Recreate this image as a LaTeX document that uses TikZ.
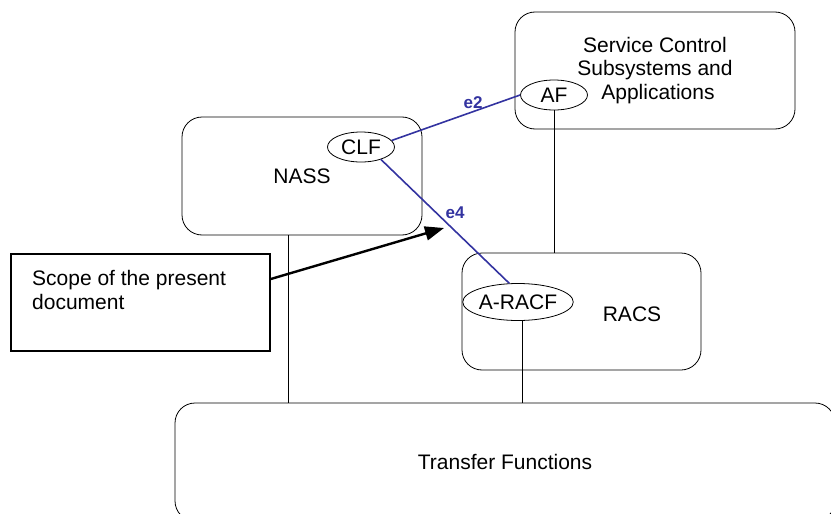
\documentclass[tikz,border=0pt]{standalone}
\usepackage{fontspec}
\setmainfont{Liberation Sans}
\usetikzlibrary{shapes.geometric,arrows.meta}
\definecolor{ifblue}{RGB}{51,51,160}
\begin{document}
\begin{tikzpicture}[x=1pt,y=-1pt,
  every node/.style={font=\fontsize{21}{23.5}\selectfont, inner sep=0pt},
  subsys/.style={draw, rounded corners=20pt, line width=0.8pt},
  func/.style={draw, ellipse, line width=0.8pt},
  ifline/.style={draw=ifblue, line width=1.6pt},
  iflabel/.style={text=ifblue, font=\fontsize{17}{20}\bfseries\selectfont},
  conn/.style={draw, line width=0.8pt},
  scopebox/.style={draw, line width=1.6pt},
  bigarrow/.style={draw, line width=2.4pt, -{Triangle[length=19pt,width=14pt]}}]
\useasboundingbox (0,0) rectangle (831,514);
% boxes
\node[subsys, minimum width=240pt, minimum height=118pt] (nass) at (302,176) {NASS};
\node[subsys, minimum width=280pt, minimum height=117pt, align=center] (scs) at (655,70.5) {Service Control\\Subsystems and\\\hspace*{6pt}Applications};
\node[subsys, minimum width=239pt, minimum height=117pt] (racs) at (581.5,311.5) {};
\node (racslbl) at (632,314) {RACS};
\node[subsys, minimum width=660pt, minimum height=118pt] (tf) at (505,462) {Transfer Functions};
% functional entities
\node[func, fill=white, minimum width=67pt, minimum height=30pt] (clf) at (361,147) {CLF};
\node[func, fill=white, minimum width=67pt, minimum height=30pt] (af) at (554,95) {AF};
\node[func, fill=white, minimum width=88pt, minimum height=37pt] (aracf) at (518,302) {A-RACF};
% scope
\node[scopebox, minimum width=259pt, minimum height=97pt] (scope) at (140.5,302.5) {};
\node[anchor=west, align=left] (scopetxt) at (32,290) {Scope of the present\\document};
\coordinate (tip) at (444,228);
% connectors
\draw[conn] (af.south) -- (af.south |- racs.north);
\draw[conn] ([xshift=-14pt]nass.south) -- ([xshift=-14pt]nass.south |- tf.north);
\draw[conn] ([xshift=4pt]aracf.south) -- ([xshift=4pt]aracf.south |- tf.north);
\draw[ifline] (clf.12) -- (af.west);
\node[iflabel] (e2) at (473,103) {e2};
\draw[ifline] (clf.-32) -- (aracf.115);
\node[iflabel] (e4) at (455,213) {e4};
\draw[bigarrow] (scope.east |- 0,279) -- (tip);
\end{tikzpicture}
\end{document}
